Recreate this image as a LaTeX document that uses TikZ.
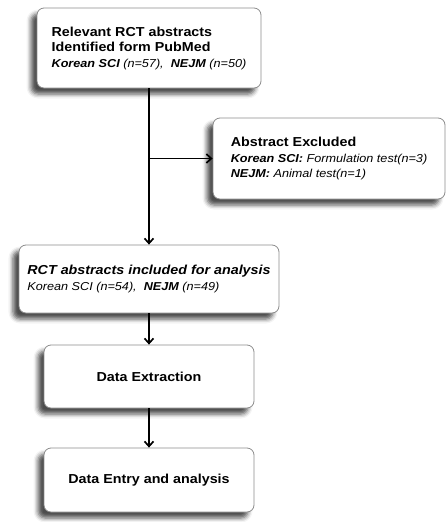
\documentclass[tikz,border=0pt]{standalone}
\usepackage{fontspec}
\setmainfont{Liberation Sans}[FakeStretch=1.1]
\usetikzlibrary{shadows.blur,arrows.meta}

% box and arrow styles
\tikzset{
  box/.style={draw=black!45, line width=0.8pt, rounded corners=7pt, fill=white,
    align=left, font=\fontsize{13}{15.5}\selectfont,
    blur shadow={shadow xshift=-6pt, shadow yshift=-6pt,
      shadow blur radius=4.5pt, shadow opacity=70}},
  flow/.style={line width=1.7pt, -{Straight Barb[length=5pt, width=9pt, line width=1.7pt]}}
}
\newcommand{\bi}[1]{{\bfseries\itshape #1}}
\newcommand{\note}[1]{{\fontsize{11.5}{15.5}\selectfont\itshape #1}}

\begin{document}
\begin{tikzpicture}[x=1pt, y=-1pt]
    \useasboundingbox (0,0) rectangle (446,522);

    % Define the boxes
    \node[box, minimum width=224, minimum height=80] (found) at (149,48)
      {\textbf{Relevant RCT abstracts}\\
       \textbf{Identified form PubMed}\\
       \note{\bi{Korean SCI} (n=57),\ \ \bi{NEJM} (n=50)}};
    \node[box, minimum width=232, minimum height=81] (excluded) at (329,158.5)
      {\textbf{Abstract Excluded}\\
       \note{\bi{Korean SCI:} Formulation test(n=3)}\\
       \note{\bi{NEJM:} Animal test(n=1)}};
    \node[box, minimum width=260, minimum height=68] (included) at (149,279)
      {\bi{RCT abstracts included for analysis}\\
       \note{Korean SCI (n=54),\ \ \bi{NEJM} (n=49)}};
    \node[box, align=center, minimum width=210, minimum height=63] (extract) at (149,376.5)
      {\textbf{Data Extraction}};
    \node[box, align=center, minimum width=210, minimum height=64] (entry) at (149,480)
      {\textbf{Data Entry and analysis}};

    % Draw the arrows
    \coordinate (branch) at (found.south |- excluded.west);
    \draw[flow] (found.south) -- (found.south |- included.north);
    \draw[flow] (branch) -- (excluded.west);
    \draw[flow] (included.south) -- (extract.north);
    \draw[flow] (extract.south) -- (entry.north);
\end{tikzpicture}
\end{document}
